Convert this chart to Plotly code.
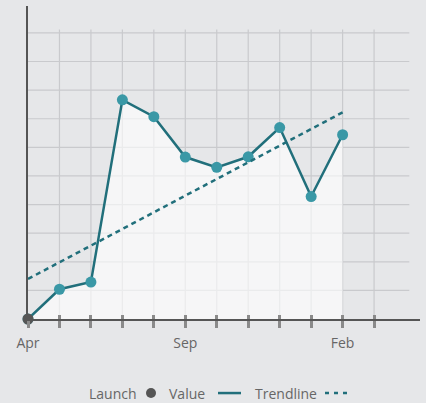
import plotly.graph_objects as go

# ---- data ----
months = ["Apr", "May", "Jun", "Jul", "Aug", "Sep", "Oct", "Nov", "Dec", "Jan", "Feb"]
values = [0.0, 1.04, 1.29, 7.66, 7.07, 5.66, 5.30, 5.67, 6.69, 4.28, 6.44]
launch_index = [0]
launch_value = [0.0]
trend_index = [0, 10.1]
trend_values = [1.40, 7.28]
tick_positions = list(range(12))
tick_labels = ["Apr", "", "", "", "", "Sep", "", "", "", "", "Feb", ""]
grid_y = list(range(1, 11))
grid_x = list(range(1, 12))

x_idx = list(range(len(months)))

BG = "#e6e7e9"
LINE = "#216f7b"
MARK = "#3a98a6"
GRID = "#c9cacd"
TXT = "#666666"
FONT = "Open Sans"

fig = go.Figure()

fig.add_trace(go.Scatter(
    x=x_idx, y=values, mode="lines+markers", name="Value",
    line=dict(color=LINE, width=2.5),
    marker=dict(color=MARK, size=11),
    fill="tozeroy", fillcolor="rgba(255,255,255,0.62)",
    cliponaxis=False, showlegend=False,
))
fig.add_trace(go.Scatter(
    x=trend_index, y=trend_values, mode="lines", name="Trendline",
    line=dict(color=LINE, width=2.5, dash="5px,4px"),
    showlegend=False,
))
fig.add_trace(go.Scatter(
    x=launch_index, y=launch_value, mode="markers", name="Launch",
    marker=dict(color="#555555", size=11),
    cliponaxis=False, showlegend=False,
))
# overlay trace to bind the second x axis (inside ticks)
fig.add_trace(go.Scatter(x=[None], y=[None], xaxis="x2", showlegend=False, hoverinfo="skip"))

shapes = []
for gy in grid_y:
    shapes.append(dict(type="line", xref="x", yref="y", x0=0, x1=12.12, y0=gy, y1=gy,
                       line=dict(color=GRID, width=1.2), layer="below"))
for gx in grid_x:
    shapes.append(dict(type="line", xref="x", yref="y", x0=gx, x1=gx, y0=0, y1=10.12,
                       line=dict(color=GRID, width=1.2), layer="below"))

# legend (text first, symbol after)
LY = -0.2366
def px(xpix):
    return (xpix - 28) / 392.0

shapes.append(dict(type="circle", xref="paper", yref="paper", xsizemode="pixel", ysizemode="pixel",
                   xanchor=px(151), yanchor=LY, x0=-5, x1=5, y0=-5, y1=5,
                   fillcolor="#555555", line=dict(width=0)))
shapes.append(dict(type="line", xref="paper", yref="paper", x0=px(218), x1=px(241), y0=LY, y1=LY,
                   line=dict(color=LINE, width=2.5)))
shapes.append(dict(type="line", xref="paper", yref="paper", x0=px(325), x1=px(348), y0=LY, y1=LY,
                   line=dict(color=LINE, width=2.5, dash="4px,5px")))

annotations = []
for label, xl in [("Launch", 88), ("Value", 168), ("Trendline", 254)]:
    annotations.append(dict(text=label, xref="paper", yref="paper", x=px(xl), y=LY,
                            xanchor="left", yanchor="middle", showarrow=False, borderpad=0,
                            font=dict(family=FONT, size=14, color=TXT)))

fig.update_layout(
    width=426, height=403,
    margin=dict(l=28, r=6, t=6, b=84),
    paper_bgcolor=BG, plot_bgcolor=BG,
    font=dict(family=FONT, color=TXT, size=14),
    shapes=shapes, annotations=annotations,
    showlegend=False,
    xaxis=dict(range=[0, 12.46], showgrid=False, zeroline=False,
               showline=True, linecolor="#555555", linewidth=1.5,
               tickmode="array", tickvals=tick_positions, ticktext=tick_labels,
               ticks="outside", ticklen=7, tickwidth=2.5, tickcolor="#8a8a8a",
               ticklabelstandoff=3,
               tickfont=dict(family=FONT, size=14, color=TXT)),
    xaxis2=dict(range=[0, 12.46], overlaying="x", anchor="y", side="bottom",
                showgrid=False, zeroline=False, showline=False,
                tickmode="array", tickvals=tick_positions, showticklabels=False,
                ticks="inside", ticklen=4, tickwidth=2.5, tickcolor="#8a8a8a"),
    yaxis=dict(range=[0, 10.94], showgrid=False, zeroline=False,
               showline=True, linecolor="#555555", linewidth=1.5,
               showticklabels=False, ticks=""),
)

fig.write_html(
    "out.html",
    config={"displayModeBar": False},
    post_script="document.body.style.margin='0';document.body.style.background='#e6e7e9';document.body.style.overflow='hidden';",
)
